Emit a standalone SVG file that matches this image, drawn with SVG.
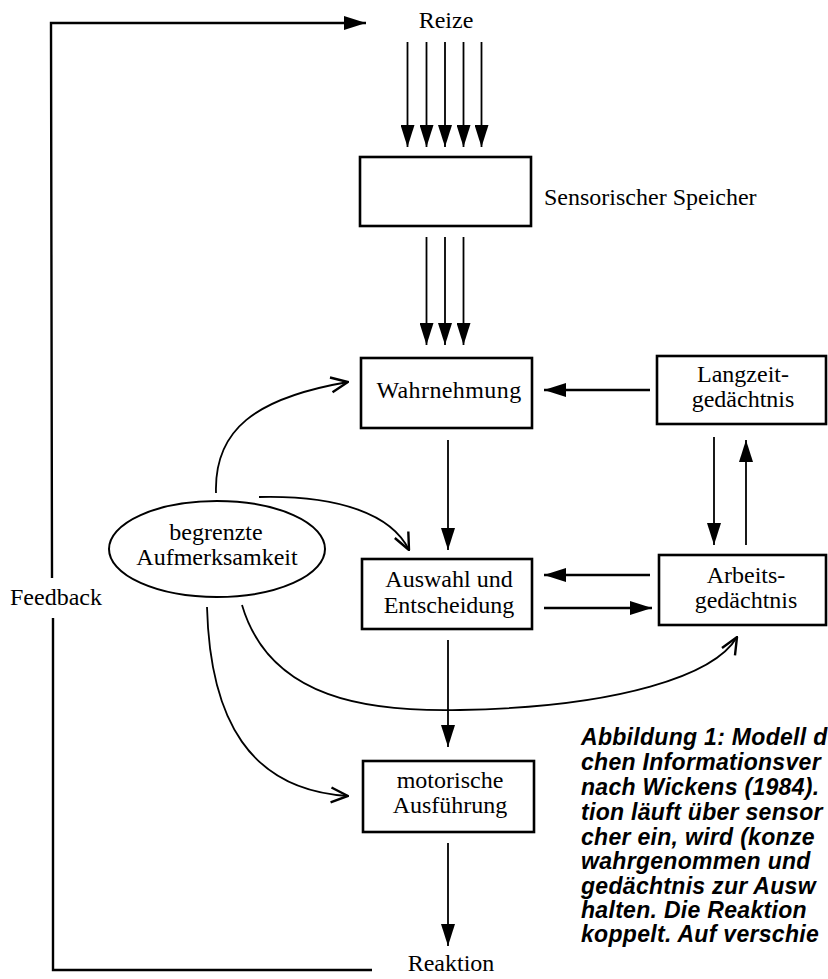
<svg xmlns="http://www.w3.org/2000/svg" width="828" height="979" viewBox="0 0 828 979">
<style>
.box{fill:#fff;stroke:#000;stroke-width:2.6}
.t{font-family:"Liberation Serif",serif;font-size:24px;fill:#000;text-anchor:middle}
.tl{font-family:"Liberation Serif",serif;font-size:24px;fill:#000}
.ln{fill:none;stroke:#000;stroke-width:1.8}
.fb{fill:none;stroke:#000;stroke-width:2.4}
.cap{font-family:"Liberation Sans",Arial,sans-serif;font-size:23px;font-weight:bold;font-style:italic;letter-spacing:0.3px;fill:#000}
</style>
<defs>
<marker id="tri" viewBox="0 0 22 14" refX="22" refY="7" markerWidth="22" markerHeight="14" markerUnits="userSpaceOnUse" orient="auto">
<path d="M0,0 L22,7 L0,14 z" fill="#000"/>
</marker>
<marker id="vee" viewBox="0 0 20 18" refX="19" refY="9" markerWidth="20" markerHeight="18" markerUnits="userSpaceOnUse" orient="auto">
<path d="M2,1.5 L19,9 L2,16.5" fill="none" stroke="#000" stroke-width="2.4"/>
</marker>
</defs>
<rect width="828" height="979" fill="#fff"/>

<g id="connectors">
<!-- feedback loop -->
<path class="fb" d="M372,970 L53,970 L53,618"/>
<path class="fb" d="M52,578 L51,23 L366,23" marker-end="url(#tri)"/>
<!-- stimuli -->
<path class="ln" d="M407.5,42 L407.5,147" marker-end="url(#tri)"/>
<path class="ln" d="M426.5,42 L426.5,147" marker-end="url(#tri)"/>
<path class="ln" d="M445,42 L445,147" marker-end="url(#tri)"/>
<path class="ln" d="M463.5,42 L463.5,147" marker-end="url(#tri)"/>
<path class="ln" d="M481.5,42 L481.5,147" marker-end="url(#tri)"/>
<!-- sensory to perception -->
<path class="ln" d="M426.5,237 L426.5,345" marker-end="url(#tri)"/>
<path class="ln" d="M445,237 L445,345" marker-end="url(#tri)"/>
<path class="ln" d="M463.5,237 L463.5,345" marker-end="url(#tri)"/>
<!-- LTM to perception -->
<path class="fb" d="M650,390 L544,390" marker-end="url(#tri)"/>
<!-- perception to selection -->
<path class="ln" d="M448,440 L448,550" marker-end="url(#tri)"/>
<!-- LTM <-> WM -->
<path class="ln" d="M714,437 L714,545" marker-end="url(#tri)"/>
<path class="ln" d="M746,545 L746,440" marker-end="url(#tri)"/>
<!-- WM <-> selection -->
<path class="fb" d="M650,575 L544,575" marker-end="url(#tri)"/>
<path class="fb" d="M544,608 L652,608" marker-end="url(#tri)"/>
<!-- selection to motor -->
<path class="ln" d="M448,640 L448,747" marker-end="url(#tri)"/>
<!-- motor to reaction -->
<path class="ln" d="M448,843 L448,946" marker-end="url(#tri)"/>
<!-- attention curves -->
<path class="ln" d="M216,493 C214,430 255,398 348,382" marker-end="url(#vee)"/>
<path class="ln" d="M259,497 C340,495 392,515 409,550" marker-end="url(#vee)"/>
<path class="ln" d="M207,607 C210,720 250,790 348,796" marker-end="url(#vee)"/>
<path class="ln" d="M242,605 C270,700 370,712 460,710 C620,707 715,675 737,637" marker-end="url(#vee)"/>
</g>

<g id="reize"><text class="t" x="446" y="28">Reize</text></g>

<g id="sensorischer-speicher">
<rect class="box" x="360" y="157" width="171" height="69"/>
<text class="tl" x="544" y="205">Sensorischer Speicher</text>
</g>

<g id="wahrnehmung">
<rect class="box" x="361" y="358" width="171" height="70"/>
<text class="t" x="449" y="398" letter-spacing="0.4">Wahrnehmung</text>
</g>

<g id="langzeitgedaechtnis">
<rect class="box" x="657" y="356" width="169" height="68"/>
<text class="t" x="743" y="382">Langzeit-</text>
<text class="t" x="743" y="407">gedächtnis</text>
</g>

<g id="aufmerksamkeit">
<ellipse cx="217" cy="549" rx="108" ry="48" fill="#fff" stroke="#000" stroke-width="2"/>
<text class="t" x="216" y="540">begrenzte</text>
<text class="t" x="217" y="565">Aufmerksamkeit</text>
</g>

<g id="auswahl">
<rect class="box" x="362" y="559" width="170" height="70"/>
<text class="t" x="449" y="587">Auswahl und</text>
<text class="t" x="449" y="613">Entscheidung</text>
</g>

<g id="arbeitsgedaechtnis">
<rect class="box" x="659" y="555" width="167" height="70"/>
<text class="t" x="746" y="583">Arbeits-</text>
<text class="t" x="746" y="608">gedächtnis</text>
</g>

<g id="feedback"><text class="tl" x="10" y="605">Feedback</text></g>

<g id="motorisch">
<rect class="box" x="363" y="761" width="171" height="71"/>
<text class="t" x="450" y="788">motorische</text>
<text class="t" x="450" y="813">Ausführung</text>
</g>

<g id="reaktion"><text class="t" x="451" y="971">Reaktion</text></g>

<g id="caption">
<text class="cap" x="581" y="745">Abbildung 1: Modell d</text>
<text class="cap" x="581" y="770">chen Informationsver</text>
<text class="cap" x="581" y="795">nach Wickens (1984).</text>
<text class="cap" x="581" y="820">tion läuft über sensor</text>
<text class="cap" x="581" y="845">cher ein, wird (konze</text>
<text class="cap" x="581" y="869">wahrgenommen und</text>
<text class="cap" x="581" y="894">gedächtnis zur Ausw</text>
<text class="cap" x="581" y="918">halten. Die Reaktion</text>
<text class="cap" x="581" y="942">koppelt. Auf verschie</text>
</g>
</svg>
